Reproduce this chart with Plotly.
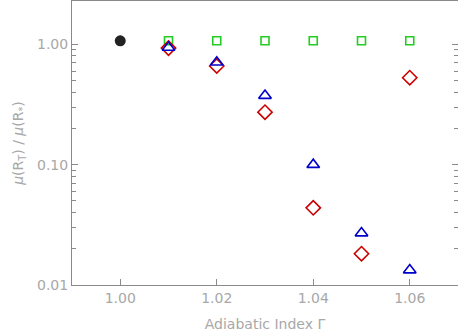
import plotly.graph_objects as go

gamma = [1.01, 1.02, 1.03, 1.04, 1.05, 1.06]
ref_x = [1.00]
ref_y = [1.07]
squares = [1.07, 1.07, 1.07, 1.07, 1.07, 1.07]
triangles = [0.94, 0.71, 0.375, 0.100, 0.027, 0.0133]
diamonds = [0.93, 0.66, 0.273, 0.0438, 0.0182, 0.528]

xtick_vals = [1.00, 1.02, 1.04, 1.06]
xtick_text = ["1.00", "1.02", "1.04", "1.06"]
ytick_vals = [0.01, 0.1, 1.0]
ytick_text = ["0.01", "0.10", "1.00"]
yminor = [k * 10 ** e for e in (-2, -1) for k in range(2, 10)]

grey = "#8a8a8a"
label_grey = "#a8a8a8"

fig = go.Figure()
fig.add_trace(go.Scatter(
    x=ref_x, y=ref_y, mode="markers",
    marker=dict(symbol="circle", size=11, color="#222222")))
fig.add_trace(go.Scatter(
    x=gamma, y=squares, mode="markers",
    marker=dict(symbol="square-open", size=8, color="#22cc22",
                line=dict(width=1.6, color="#22cc22"))))
fig.add_trace(go.Scatter(
    x=gamma, y=diamonds, mode="markers",
    marker=dict(symbol="diamond-open", size=11, color="#cc0000",
                line=dict(width=1.6, color="#cc0000"))))
fig.add_trace(go.Scatter(
    x=gamma, y=triangles, mode="markers",
    marker=dict(symbol="triangle-up-open", size=11, color="#0000cc",
                line=dict(width=1.6, color="#0000cc"))))

fig.update_layout(
    width=458, height=335,
    margin=dict(l=72, r=0, t=1, b=50, autoexpand=False),
    plot_bgcolor="white", paper_bgcolor="white",
    showlegend=False,
    font=dict(family="DejaVu Sans", color=label_grey, size=14),
)
fig.update_xaxes(
    range=[0.99, 1.07], showgrid=False, zeroline=False, automargin=False,
    showline=True, linecolor=grey, linewidth=1, mirror=True,
    ticks="inside", ticklen=6, tickcolor=grey,
    tickvals=xtick_vals, ticktext=xtick_text,
    tickfont=dict(size=14, color=label_grey),
    title=dict(text="Adiabatic Index Γ", font=dict(size=14, color=label_grey), standoff=14),
)
fig.update_yaxes(
    type="log", range=[-2, 0.36], showgrid=False, zeroline=False, automargin=False,
    showline=True, linecolor=grey, linewidth=1, mirror="allticks",
    ticks="inside", ticklen=6, tickcolor=grey,
    tickvals=ytick_vals, ticktext=ytick_text,
    tickfont=dict(size=14, color=label_grey),
    minor=dict(tickvals=yminor, ticks="inside", ticklen=4, tickcolor=grey),
    title=dict(text="<i>μ</i>(R<sub>T</sub>) / <i>μ</i>(R<sub>*</sub>)",
               font=dict(size=14, color=label_grey), standoff=10),
)

fig.write_html("out.html", config={"displayModeBar": False},
               post_script="document.body.style.margin='0';")
